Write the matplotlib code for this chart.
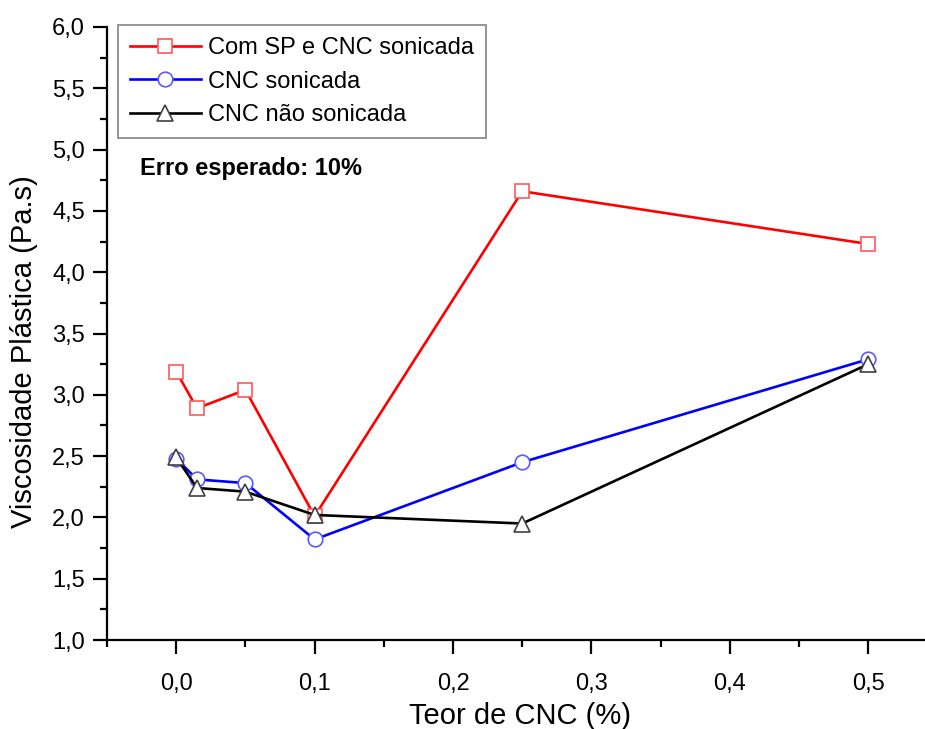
import matplotlib
matplotlib.use("Agg")
import matplotlib.pyplot as plt
from matplotlib import font_manager
from matplotlib.ticker import MultipleLocator, FuncFormatter

plt.rcParams['font.family'] = ['Liberation Sans', 'DejaVu Sans']

# CNC content (%)
teor_cnc = [0.0, 0.015, 0.05, 0.1, 0.25, 0.5]

# Plastic viscosity (Pa.s)
visc_sp_sonicada = [3.19, 2.89, 3.04, 2.01, 4.66, 4.23]
visc_sonicada = [2.48, 2.31, 2.28, 1.82, 2.45, 3.29]
visc_nao_sonicada = [2.49, 2.24, 2.21, 2.02, 1.95, 3.25]

labels = ["Com SP e CNC sonicada", "CNC sonicada", "CNC não sonicada"]

# Narrow face for tick numbers when available
try:
    font_manager.findfont("Liberation Sans Narrow", fallback_to_default=False)
    tick_font, tick_size = "Liberation Sans Narrow", 19
except ValueError:
    tick_font, tick_size = "Liberation Sans", 17

W, H = 925, 729
fig = plt.figure(figsize=(W / 100, H / 100), dpi=100)
ax = fig.add_axes([107 / W, 1 - 640 / H, 1 - 107 / W, (640 - 27) / H])

ax.plot(teor_cnc, visc_sp_sonicada, color='#ff0000', lw=1.9, marker='s',
        ms=9.5, mfc='white', mec='#ff5a5a', mew=1.2, label=labels[0], zorder=3)
ax.plot(teor_cnc, visc_sonicada, color='#0000ff', lw=1.9, marker='o',
        ms=10.5, mfc='white', mec='#5a5aff', mew=1.2, label=labels[1], zorder=4)
ax.plot(teor_cnc, visc_nao_sonicada, color='#000000', lw=1.9, marker='^',
        ms=12, mfc='white', mec='#404040', mew=1.2, label=labels[2], zorder=5)

ax.set_xlim(-0.05, 0.541)
ax.set_ylim(1.0, 6.0)

for side in ('top', 'right'):
    ax.spines[side].set_visible(False)
for side in ('left', 'bottom'):
    ax.spines[side].set_linewidth(1.6)

ax.xaxis.set_major_locator(MultipleLocator(0.1))
ax.xaxis.set_minor_locator(MultipleLocator(0.05))
ax.yaxis.set_major_locator(MultipleLocator(0.5))
ax.yaxis.set_minor_locator(MultipleLocator(0.25))

comma1 = FuncFormatter(lambda v, p: f"{v:.1f}".replace('.', ','))
ax.xaxis.set_major_formatter(comma1)
ax.yaxis.set_major_formatter(comma1)

ax.tick_params(which='major', direction='out', length=10, width=1.6,
               labelsize=tick_size, pad=6)
ax.tick_params(which='minor', direction='out', length=5, width=1.6)
ax.tick_params(axis='x', which='major', pad=14)
for lbl in ax.get_xticklabels() + ax.get_yticklabels():
    lbl.set_family(tick_font)

ax.set_xlabel("Teor de CNC (%)", fontsize=21)
ax.set_ylabel("Viscosidade Plástica (Pa.s)", fontsize=21)
ax.xaxis.set_label_coords(520 / W, 1 - 702 / H, transform=fig.transFigure)
ax.yaxis.set_label_coords(38 / W, 1 - 352 / H, transform=fig.transFigure)

leg = ax.legend(loc='upper left', bbox_to_anchor=(118 / W, 1 - 25 / H),
                bbox_transform=fig.transFigure, borderaxespad=0,
                fontsize=17, frameon=True, fancybox=False,
                edgecolor='#707070', handlelength=3.0, handletextpad=0.3,
                labelspacing=0.5, borderpad=0.5)
leg.get_frame().set_linewidth(1.3)

fig.text(140 / W, 1 - 169 / H, "Erro esperado: 10%", fontsize=17,
         fontweight='bold', va='center', ha='left')

fig.savefig("out.png", dpi=100)
